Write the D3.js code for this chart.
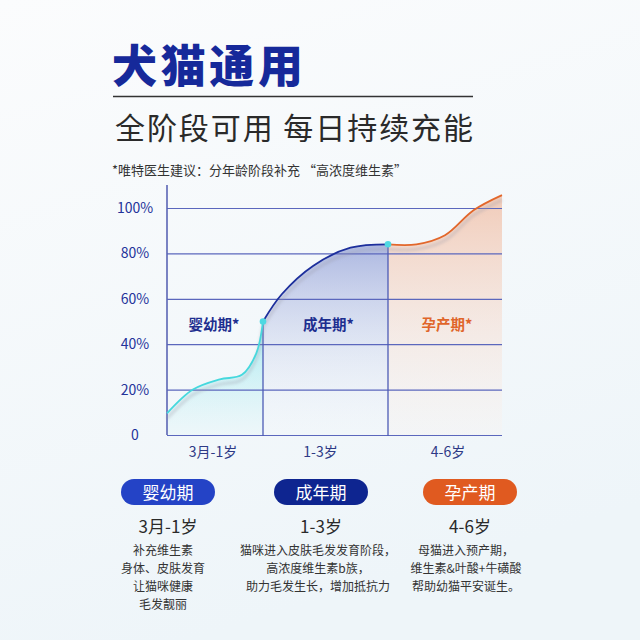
<!DOCTYPE html>
<html lang="zh">
<head>
<meta charset="utf-8">
<title>犬猫通用</title>
<script src="https://cdn.jsdelivr.net/npm/d3@7/dist/d3.min.js"></script>
<style>
  html, body { margin: 0; padding: 0; }
  body { width: 640px; height: 640px; overflow: hidden; font-family: "Noto Sans CJK SC", "Noto Sans", sans-serif; }
</style>
</head>
<body>
<script>
// chart values
var yTicks = [0, 20, 40, 60, 80, 100];
var ageLabels = ["3月-1岁", "1-3岁", "4-6岁"];
var stageNames = ["婴幼期", "成年期", "孕产期"];

// x is in "stage units": 0-1 infant, 1-2 adult, 2-3 pregnancy
var infantX = [0, 0.27, 0.55, 0.78, 0.93, 1];
var infantY = [9.5, 20, 24.5, 26.5, 36, 50];
var adultX = [1, 1.15, 1.4, 1.7, 2];
var adultY = [50, 62, 74.5, 82.5, 84];
var pregX = [2, 2.25, 2.5, 2.75, 3];
var pregY = [84, 84, 88, 99, 105.7];

var descLines = [
  ["补充维生素", "身体、皮肤发育", "让猫咪健康", "毛发靓丽"],
  ["猫咪进入皮肤毛发发育阶段，", "高浓度维生素b族，", "助力毛发生长，增加抵抗力"],
  ["母猫进入预产期，", "维生素&叶酸+牛磺酸", "帮助幼猫平安诞生。"]
];

var W = 640, H = 640;
var font = '"Noto Sans CJK SC", "Noto Sans", sans-serif';

var svg = d3.select("body").append("svg")
  .attr("width", W).attr("height", H);

var defs = svg.append("defs");

var bg = defs.append("linearGradient").attr("id", "bg")
  .attr("x1", 0).attr("y1", 0).attr("x2", 0.3).attr("y2", 1);
bg.append("stop").attr("offset", 0).attr("stop-color", "#fbfcfd");
bg.append("stop").attr("offset", 1).attr("stop-color", "#eef5f9");

function vgrad(id, y1, y2, c1, o1, c2, o2) {
  var g = defs.append("linearGradient").attr("id", id)
    .attr("gradientUnits", "userSpaceOnUse")
    .attr("x1", 0).attr("x2", 0).attr("y1", y1).attr("y2", y2);
  g.append("stop").attr("offset", 0).attr("stop-color", c1).attr("stop-opacity", o1);
  g.append("stop").attr("offset", 1).attr("stop-color", c2).attr("stop-opacity", o2);
}

var blur = defs.append("filter").attr("id", "blur")
  .attr("x", "-10%").attr("y", "-10%").attr("width", "120%").attr("height", "130%");
blur.append("feGaussianBlur").attr("stdDeviation", 1.6);

svg.append("rect").attr("width", W).attr("height", H).attr("fill", "url(#bg)");

// heading
svg.append("text")
  .attr("x", 112).attr("y", 83)
  .attr("textLength", 191).attr("lengthAdjust", "spacing")
  .style("font-family", font).style("font-weight", 900).style("font-size", "45px")
  .attr("fill", "#16299a")
  .text("犬猫通用");

svg.append("line")
  .attr("x1", 113).attr("x2", 473).attr("y1", 96.5).attr("y2", 96.5)
  .attr("stroke", "#333").attr("stroke-width", 1.3);

svg.append("text")
  .attr("x", 115).attr("y", 139)
  .attr("textLength", 358).attr("lengthAdjust", "spacing")
  .style("font-family", font).style("font-weight", 400).style("font-size", "30px")
  .attr("fill", "#2a2a2a")
  .text("全阶段可用 每日持续充能");

svg.append("text")
  .attr("x", 112).attr("y", 174.5)
  .style("font-family", font).style("font-size", "13px")
  .attr("fill", "#333")
  .text("*唯特医生建议：分年龄阶段补充 “高浓度维生素”");

// chart
var x = d3.scaleLinear().domain([0, 1, 2, 3]).range([167, 263, 388, 502]);
var y = d3.scaleLinear().domain([0, 100]).range([435, 208]);
var x0 = x(0), x1 = x(3), yb = y(0);

vgrad("gInf", y(50), yb, "#62dce6", 0.55, "#dff6f8", 0.25);
vgrad("gAd", y(84), yb, "#7c8ccf", 0.6, "#f4f7fb", 0.1);
vgrad("gPr", y(105), yb, "#f0bda4", 0.75, "#fbf1ec", 0.25);

var chart = svg.append("g");

var series = [
  { xs: infantX, ys: infantY, color: "#46d8dd", fill: "url(#gInf)" },
  { xs: adultX, ys: adultY, color: "#1d2f9c", fill: "url(#gAd)" },
  { xs: pregX, ys: pregY, color: "#e2672b", fill: "url(#gPr)" }
];
series.forEach(function (s) {
  s.pts = s.xs.map(function (v, i) { return [v, s.ys[i]]; });
});

var curve = d3.curveCatmullRom.alpha(0.5);

var area = d3.area()
  .x(function (d) { return x(d[0]); })
  .y0(yb)
  .y1(function (d) { return y(d[1]); })
  .curve(curve);

var line = d3.line()
  .x(function (d) { return x(d[0]); })
  .y(function (d) { return y(d[1]); })
  .curve(curve);

chart.selectAll("path.area").data(series).enter().append("path")
  .attr("class", "area")
  .attr("d", function (s) { return area(s.pts); })
  .attr("fill", function (s) { return s.fill; });

// grid lines
var grid = chart.append("g")
  .attr("transform", "translate(" + x0 + ",0)")
  .call(d3.axisLeft(y).tickValues(yTicks).tickSize(-(x1 - x0)).tickFormat(""));
grid.select(".domain").remove();
grid.selectAll("line").attr("stroke", "#5b67bd").attr("stroke-width", 1.2);

// y axis line
chart.append("line")
  .attr("x1", x0).attr("x2", x0).attr("y1", 185).attr("y2", yb)
  .attr("stroke", "#5b65b5").attr("stroke-width", 1.6);

// stage dividers
chart.selectAll("line.div").data([1, 2]).enter().append("line")
  .attr("class", "div")
  .attr("x1", function (d) { return x(d); })
  .attr("x2", function (d) { return x(d); })
  .attr("y1", function (d) { return d === 1 ? y(infantY[infantY.length - 1]) : y(adultY[adultY.length - 1]); })
  .attr("y2", yb + 1)
  .attr("stroke", "#4d5bb5").attr("stroke-width", 1.3);

// soft shadow lines below curves
chart.selectAll("path.shadow").data(series).enter().append("path")
  .attr("class", "shadow")
  .attr("d", function (s) { return line(s.pts); })
  .attr("transform", "translate(0,5)")
  .attr("fill", "none")
  .attr("stroke", "#9a9ca8").attr("stroke-opacity", 0.35).attr("stroke-width", 3)
  .attr("filter", "url(#blur)");

chart.selectAll("path.curve").data(series).enter().append("path")
  .attr("class", "curve")
  .attr("d", function (s) { return line(s.pts); })
  .attr("fill", "none")
  .attr("stroke", function (s) { return s.color; })
  .attr("stroke-width", 1.8);

// joint markers
chart.selectAll("circle.joint")
  .data([[1, infantY[infantY.length - 1]], [2, adultY[adultY.length - 1]]])
  .enter().append("circle")
  .attr("cx", function (d) { return x(d[0]); })
  .attr("cy", function (d) { return y(d[1]); })
  .attr("r", 3.3)
  .attr("fill", "#4fd9e2");

// y tick labels
var yax = chart.append("g")
  .attr("transform", "translate(" + x0 + ",0)")
  .call(d3.axisLeft(y).tickValues(yTicks).tickSize(0)
    .tickFormat(function (d) { return d === 0 ? "0" : d + "%"; }));
yax.select(".domain").remove();
yax.selectAll("text")
  .attr("x", -32).attr("text-anchor", "middle")
  .style("font-family", font).style("font-size", "14px")
  .attr("fill", "#23339a");

// in-chart stage names
var stageColors = ["#1d2e8f", "#1d2e8f", "#e0652a"];
var stageOff = [-1, 3, 2];
chart.selectAll("text.stage").data(stageNames).enter().append("text")
  .attr("class", "stage")
  .attr("x", function (d, i) { return x(i + 0.5) + stageOff[i]; })
  .attr("y", 330)
  .attr("text-anchor", "middle")
  .style("font-family", font).style("font-weight", 700).style("font-size", "14.5px")
  .attr("fill", function (d, i) { return stageColors[i]; })
  .text(function (d) { return d + "*"; });

// x labels
chart.selectAll("text.age").data(ageLabels).enter().append("text")
  .attr("class", "age")
  .attr("x", function (d, i) { return x(i + 0.5) + [-2, -5, 3][i]; })
  .attr("y", 457)
  .attr("text-anchor", "middle")
  .style("font-family", font).style("font-size", "14px")
  .attr("fill", "#2e3a86")
  .text(function (d) { return d; });

// bottom legend cards
var cols = [168, 321, 470];
var pillColors = ["#2443c6", "#0e2590", "#e05a20"];
var cards = svg.selectAll("g.card").data(stageNames).enter().append("g")
  .attr("class", "card")
  .attr("transform", function (d, i) { return "translate(" + cols[i] + ",0)"; });

cards.append("rect")
  .attr("x", -47).attr("y", 479).attr("width", 94).attr("height", 26)
  .attr("rx", 13)
  .attr("fill", function (d, i) { return pillColors[i]; });

cards.append("text")
  .attr("y", 498.5).attr("text-anchor", "middle")
  .style("font-family", font).style("font-size", "17px")
  .attr("fill", "#fff")
  .text(function (d) { return d; });

cards.append("text")
  .attr("y", 533).attr("text-anchor", "middle")
  .style("font-family", font).style("font-size", "17px")
  .attr("fill", "#2a2a2a")
  .text(function (d, i) { return ageLabels[i]; });

var descDx = [-5, -3, -4];
cards.each(function (d, i) {
  d3.select(this).selectAll("text.desc").data(descLines[i]).enter().append("text")
    .attr("class", "desc")
    .attr("x", descDx[i])
    .attr("y", function (t, j) { return 555 + j * 18; })
    .attr("text-anchor", "middle")
    .style("font-family", font).style("font-size", "12px")
    .attr("fill", "#333")
    .text(function (t) { return t; });
});
</script>
</body>
</html>
